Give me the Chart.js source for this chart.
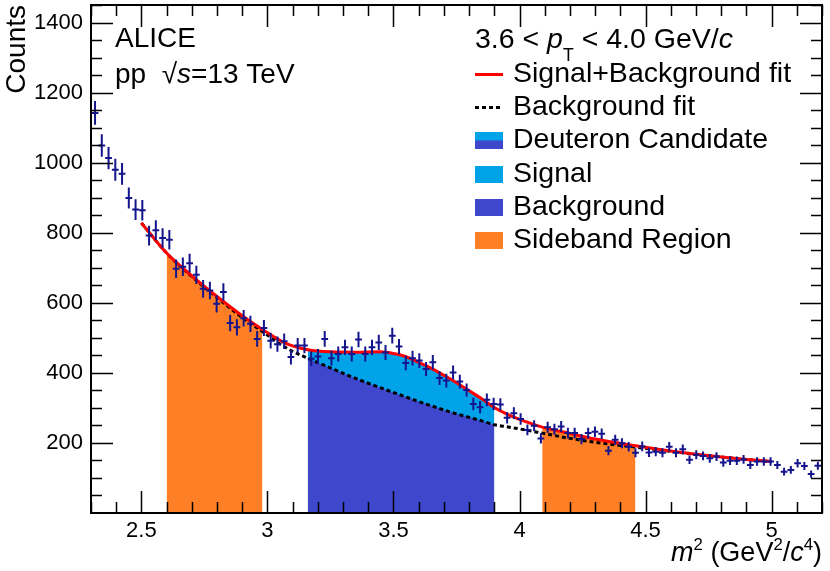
<!DOCTYPE html>
<html>
<head>
<meta charset="utf-8">
<title>Deuteron m2 distribution</title>
<script src="https://cdn.jsdelivr.net/npm/chart.js@4.4.0/dist/chart.umd.min.js"></script>
<style>
  html, body { margin: 0; padding: 0; background: #fff; }
  #wrap { width: 830px; height: 571px; }
</style>
</head>
<body>
<div id="wrap"><canvas id="massChart" width="830" height="571"></canvas></div>
<script>
// histogram of m^2, bin centres start at binStart
const binStart = 2.316;
const binWidth = 0.0268;
const counts = [
  1142, 1049, 1013, 980, 968, 899, 866, 864, 792, 807,
  785, 780, 697, 703, 713, 680, 640, 635, 597, 631,
  542, 530, 556, 540, 497, 528, 492, 482, 490, 445,
  478, 478, 440, 447, 497, 442, 454, 473, 454, 495,
  454, 473, 487, 458, 506, 475, 428, 442, 435, 411,
  430, 385, 378, 401, 375, 351, 311, 302, 323, 311,
  310, 272, 285, 268, 237, 249, 213, 245, 239, 247,
  228, 228, 211, 228, 232, 226, 178, 209, 199, 189,
  172, 190, 173, 175, 172, 189, 172, 182, 152, 166,
  163, 156, 161, 144, 149, 149, 153, 137, 147, 147,
  147, 137, 118, 123, 142, 134, 111, 135
];

// fit curves
const fitX =      [2.5, 2.6, 2.7, 2.8, 2.9, 2.98, 3.08, 3.16, 3.25, 3.35, 3.45, 3.5, 3.55, 3.6, 3.65, 3.7, 3.75, 3.8, 3.85, 3.9, 3.95, 4.0, 4.09, 4.2, 4.3, 4.46, 4.6, 4.7, 4.8, 4.9, 5.0];
const sigBkgFit = [828, 742, 677, 618, 563, 524, 482, 466, 460, 459, 460, 455, 446, 430, 413, 393, 372, 349, 326, 301, 282, 267, 245, 227, 211, 192, 177, 168, 160, 153, 147];
const bkgFit =    [828, 742, 675, 615, 558, 518, 469, 442, 414, 384, 357, 344, 331, 318, 306, 294, 283, 273, 263, 252, 246, 240, 228, 213, 202, 188, 176, 167, 160, 153, 147];

const sidebandRanges = [[2.6, 2.98], [4.09, 4.46]];
const signalRange = [3.16, 3.9];

const xTicks = [2.5, 3, 3.5, 4, 4.5, 5];
const yTicks = [200, 400, 600, 800, 1000, 1200, 1400];

const legendLabels = ['Signal+Background fit', 'Background fit', 'Deuteron Candidate', 'Signal', 'Background', 'Sideband Region'];

const dataColor = 'rgb(20, 20, 140)';
const orange = '#ff7f27';
const cyan = '#00a2e8';
const indigo = '#3f48cc';
const FONT = '"Liberation Sans", Arial, Helvetica, sans-serif';

Chart.defaults.font.family = FONT;

function curve(ys) {
    return fitX.map((x, i) => ({ x: x, y: ys[i] }));
}

function region(ys, range) {
    return curve(ys).filter(p => p.x >= range[0] - 1e-9 && p.x <= range[1] + 1e-9);
}

const points = counts.map((c, i) => ({ x: binStart + i * binWidth, y: c }));

function fillSet(data, color, order) {
    return {
        type: 'line', data: data, order: order,
        borderWidth: 0, pointRadius: 0,
        backgroundColor: color, fill: 'origin',
        cubicInterpolationMode: 'monotone'
    };
}

// draws text made of pieces (italic / sup / sub)
function drawRich(ctx, x, y, parts, size) {
    let cx = x;
    parts.forEach(p => {
        const s = (p.sup || p.sub) ? size * 0.62 : size;
        ctx.font = (p.it ? 'italic ' : '') + s + 'px ' + FONT;
        const dy = p.sup ? -size * 0.42 : (p.sub ? size * 0.45 : 0);
        ctx.fillText(p.t, cx, y + dy);
        cx += ctx.measureText(p.t).width;
    });
    return cx;
}

function richWidth(ctx, parts, size) {
    let w = 0;
    parts.forEach(p => {
        const s = (p.sup || p.sub) ? size * 0.62 : size;
        ctx.font = (p.it ? 'italic ' : '') + s + 'px ' + FONT;
        w += ctx.measureText(p.t).width;
    });
    return w;
}

const rootStyle = {
    id: 'rootStyle',
    afterDatasetsDraw(chart) {
        // data points with error bars
        const ctx = chart.ctx;
        const xs = chart.scales.x, ys = chart.scales.y, a = chart.chartArea;
        const meta = chart.getDatasetMeta(0);
        ctx.save();
        ctx.beginPath();
        ctx.rect(a.left, a.top, a.right - a.left, a.bottom - a.top);
        ctx.clip();
        ctx.strokeStyle = dataColor;
        ctx.lineWidth = 2;
        meta.data.forEach((el, i) => {
            const p = points[i];
            const err = Math.sqrt(p.y);
            ctx.beginPath();
            ctx.moveTo(el.x, ys.getPixelForValue(p.y - err));
            ctx.lineTo(el.x, ys.getPixelForValue(p.y + err));
            ctx.moveTo(xs.getPixelForValue(p.x - binWidth / 2), el.y);
            ctx.lineTo(xs.getPixelForValue(p.x + binWidth / 2), el.y);
            ctx.stroke();
        });
        ctx.restore();
    },
    afterDraw(chart) {
        const ctx = chart.ctx;
        const xs = chart.scales.x, ys = chart.scales.y, a = chart.chartArea;
        ctx.save();

        // frame
        ctx.strokeStyle = '#000';
        ctx.lineWidth = 2;
        ctx.strokeRect(a.left, a.top, a.right - a.left, a.bottom - a.top);

        // ticks on all four sides, pointing inwards
        ctx.lineWidth = 1.5;
        ctx.beginPath();
        for (let i = 23; i <= 52; i++) {
            const v = i / 10;
            const px = Math.round(xs.getPixelForValue(v)) + 0.5;
            const len = (i % 5 === 0) ? 22 : 11;
            ctx.moveTo(px, a.bottom); ctx.lineTo(px, a.bottom - len);
            ctx.moveTo(px, a.top); ctx.lineTo(px, a.top + len);
        }
        for (let i = 1; i <= 29; i++) {
            const v = i * 50;
            const py = Math.round(ys.getPixelForValue(v)) + 0.5;
            const len = (i % 4 === 0) ? 22 : 11;
            ctx.moveTo(a.left, py); ctx.lineTo(a.left + len, py);
            ctx.moveTo(a.right, py); ctx.lineTo(a.right - len, py);
        }
        ctx.stroke();

        ctx.fillStyle = '#000';
        ctx.textBaseline = 'alphabetic';
        ctx.textAlign = 'left';

        // axis titles
        const xt = [{ t: 'm', it: true }, { t: '2', sup: true }, { t: ' (GeV' }, { t: '2', sup: true },
                    { t: '/' }, { t: 'c', it: true }, { t: '4', sup: true }, { t: ')' }];
        drawRich(ctx, a.right - richWidth(ctx, xt, 27), 561, xt, 27);

        ctx.save();
        ctx.translate(25, a.top);
        ctx.rotate(-Math.PI / 2);
        ctx.textAlign = 'right';
        ctx.font = '28px ' + FONT;
        ctx.fillText('Counts', 0, 0);
        ctx.restore();

        // experiment label
        ctx.font = '28px ' + FONT;
        ctx.fillText('ALICE', 115, 47);
        drawRich(ctx, 115, 83, [{ t: 'pp  \u221A' }, { t: 's', it: true }, { t: '=13 TeV' }], 28);

        // legend
        const lx = 475, tx = 513;
        const rows = [48, 82, 115, 148, 182, 215, 248];
        drawRich(ctx, lx, rows[0], [{ t: '3.6 < ' }, { t: 'p', it: true }, { t: 'T', sub: true },
                                    { t: ' < 4.0 GeV/' }, { t: 'c', it: true }], 28.5);
        ctx.font = '28.5px ' + FONT;
        legendLabels.forEach((lab, i) => ctx.fillText(lab, tx, rows[i + 1]));

        ctx.lineWidth = 3;
        ctx.strokeStyle = '#ff0000';
        ctx.beginPath(); ctx.moveTo(lx, rows[1] - 7.5); ctx.lineTo(lx + 28, rows[1] - 7.5); ctx.stroke();
        ctx.strokeStyle = '#000';
        ctx.setLineDash([4, 3]);
        ctx.beginPath(); ctx.moveTo(lx, rows[2] - 7.5); ctx.lineTo(lx + 28, rows[2] - 7.5); ctx.stroke();
        ctx.setLineDash([]);

        const box = (row, color) => { ctx.fillStyle = color; ctx.fillRect(lx, rows[row] - 16, 28, 17); };
        box(3, cyan);
        ctx.fillStyle = indigo; ctx.fillRect(lx, rows[3] - 7.5, 28, 8.5);
        box(4, cyan);
        box(5, indigo);
        box(6, orange);

        ctx.restore();
    }
};

const ctx = document.getElementById('massChart').getContext('2d');

new Chart(ctx, {
    type: 'scatter',
    data: {
        datasets: [
            { type: 'scatter', data: points, order: 0, pointRadius: 0, showLine: false },
            { type: 'line', data: curve(sigBkgFit), order: 1, borderColor: '#ff0000', borderWidth: 3,
              pointRadius: 0, fill: false, cubicInterpolationMode: 'monotone' },
            { type: 'line', data: curve(bkgFit), order: 2, borderColor: '#000', borderWidth: 3,
              borderDash: [4, 3], pointRadius: 0, fill: false, cubicInterpolationMode: 'monotone' },
            fillSet(region(bkgFit, signalRange), indigo, 3),
            fillSet(region(sigBkgFit, signalRange), cyan, 4),
            fillSet(region(sigBkgFit, sidebandRanges[0]), orange, 5),
            fillSet(region(sigBkgFit, sidebandRanges[1]), orange, 5)
        ]
    },
    options: {
        responsive: false,
        animation: false,
        layout: { padding: { top: 5, right: 8, left: 0, bottom: 0 } },
        plugins: { legend: { display: false }, tooltip: { enabled: false } },
        scales: {
            x: {
                type: 'linear', min: 2.3, max: 5.2,
                grid: { display: false, drawTicks: false }, border: { display: false },
                afterBuildTicks: s => { s.ticks = xTicks.map(v => ({ value: v })); },
                afterFit: s => { s.height = 58; s.paddingLeft = 0; s.paddingRight = 0; },
                ticks: {
                    color: '#000', font: { size: 22 }, padding: 5, maxRotation: 0, autoSkip: false,
                    callback: v => (v % 1 === 0 ? String(v) : v.toFixed(1))
                }
            },
            y: {
                type: 'linear', min: 0, max: 1450,
                grid: { display: false, drawTicks: false }, border: { display: false },
                afterBuildTicks: s => { s.ticks = yTicks.map(v => ({ value: v })); },
                afterFit: s => { s.width = 91; s.paddingTop = 0; s.paddingBottom = 0; },
                ticks: { color: '#000', font: { size: 22 }, padding: 8, autoSkip: false, callback: v => String(v) }
            }
        }
    },
    plugins: [rootStyle]
});
</script>
</body>
</html>
